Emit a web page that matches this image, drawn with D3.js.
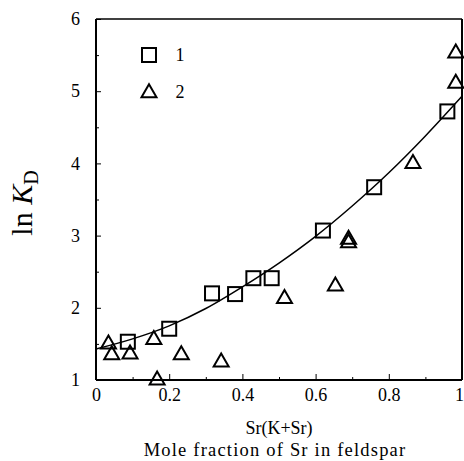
<!DOCTYPE html>
<html>
<head>
<meta charset="utf-8">
<script src="https://cdn.jsdelivr.net/npm/d3@7"></script>
<style>
html,body{margin:0;padding:0;background:#fff;}
svg{display:block;}
text{font-family:"Liberation Serif","Times New Roman",serif;fill:#000;}
</style>
</head>
<body>
<svg id="chart" width="464" height="461"></svg>
<script>
// Series 1 (squares)
const sqX = [0.087, 0.20, 0.317, 0.38, 0.43, 0.48, 0.62, 0.76, 0.96];
const sqY = [1.53, 1.71, 2.20, 2.19, 2.41, 2.41, 3.07, 3.67, 4.72];
// Series 2 (triangles)
const triX = [0.034, 0.043, 0.093, 0.158, 0.167, 0.233, 0.342, 0.515, 0.654, 0.69, 0.69, 0.866, 0.983, 0.983];
const triY = [1.51, 1.36, 1.37, 1.57, 1.01, 1.36, 1.26, 2.14, 2.31, 2.91, 2.96, 4.01, 5.12, 5.54];
// Fitted curve
const curveX = [0, 0.1, 0.2, 0.3, 0.4, 0.5, 0.6, 0.7, 0.8, 0.9, 1.0];
const curveY = [1.43, 1.57, 1.75, 1.99, 2.29, 2.62, 2.99, 3.41, 3.87, 4.38, 4.93];
// Ticks
const xMajor = [0, 0.2, 0.4, 0.6, 0.8, 1];
const xMinor = [0.1, 0.3, 0.5, 0.7, 0.9];
const xTickLabels = ["0", "0.2", "0.4", "0.6", "0.8", "1"];
const yMajor = [1, 2, 3, 4, 5, 6];
const yMinor = [1.5, 2.5, 3.5, 4.5, 5.5];
const yTickLabels = ["1", "2", "3", "4", "5", "6"];
const legendLabels = ["1", "2"];

const svg = d3.select("#chart");
const L = 96, R = 462, T = 19, B = 380;
const x = d3.scaleLinear().domain([0, 1]).range([L, R]);
const y = d3.scaleLinear().domain([1, 6]).range([B, T]);

// Axes
const gx = svg.append("g").attr("transform", `translate(0,${B})`)
  .call(d3.axisBottom(x).tickValues(xMajor).tickSize(-6).tickPadding(21)
    .tickFormat((d, i) => xTickLabels[i]));
const gxm = svg.append("g").attr("transform", `translate(0,${B})`)
  .call(d3.axisBottom(x).tickValues(xMinor).tickSize(-3).tickFormat(""));
const gy = svg.append("g").attr("transform", `translate(${L},0)`)
  .call(d3.axisLeft(y).tickValues(yMajor).tickSize(-5).tickPadding(16)
    .tickFormat((d, i) => yTickLabels[i]));
const gym = svg.append("g").attr("transform", `translate(${L},0)`)
  .call(d3.axisLeft(y).tickValues(yMinor).tickSize(-3).tickFormat(""));
[gx, gxm, gy, gym].forEach(g => {
  g.select(".domain").remove();
  g.selectAll(".tick line").attr("stroke", "#000").attr("stroke-width", 1);
  g.selectAll(".tick text").style("font-family", '"Liberation Serif",serif')
    .style("font-size", "18px").attr("fill", "#000");
});
gx.selectAll(".tick text").attr("dy", "0");
gx.selectAll(".tick text").filter((d, i) => i === xMajor.length - 1).attr("x", -3);

// Frame
svg.append("line").attr("x1", L).attr("x2", L).attr("y1", T).attr("y2", B).attr("stroke", "#000").attr("stroke-width", 2);
svg.append("line").attr("x1", L).attr("x2", R).attr("y1", B).attr("y2", B).attr("stroke", "#000").attr("stroke-width", 2);
svg.append("line").attr("x1", L).attr("x2", R).attr("y1", T).attr("y2", T).attr("stroke", "#000").attr("stroke-width", 1.5);
svg.append("line").attr("x1", R).attr("x2", R).attr("y1", T).attr("y2", B).attr("stroke", "#000").attr("stroke-width", 2);

// Curve
const curveData = curveX.map((d, i) => [d, curveY[i]]);
svg.append("path").datum(curveData)
  .attr("d", d3.line().x(d => x(d[0])).y(d => y(d[1])).curve(d3.curveMonotoneX))
  .attr("fill", "none").attr("stroke", "#000").attr("stroke-width", 1.5);

// Markers
const sq = 14;
const triPath = (cx, cy) => {
  const w = 15, h = 13;
  return `M${cx},${cy - h * 0.6}L${cx + w / 2},${cy + h * 0.4}L${cx - w / 2},${cy + h * 0.4}Z`;
};
svg.append("g").selectAll("rect").data(sqX.map((d, i) => [d, sqY[i]])).join("rect")
  .attr("x", d => x(d[0]) - sq / 2).attr("y", d => y(d[1]) - sq / 2)
  .attr("width", sq).attr("height", sq)
  .attr("fill", "none").attr("stroke", "#000").attr("stroke-width", 2);
svg.append("g").selectAll("path").data(triX.map((d, i) => [d, triY[i]])).join("path")
  .attr("d", d => triPath(x(d[0]), y(d[1])))
  .attr("fill", "none").attr("stroke", "#000").attr("stroke-width", 2);

// Legend
svg.append("rect").attr("x", 149 - sq / 2).attr("y", 55 - sq / 2).attr("width", sq).attr("height", sq)
  .attr("fill", "none").attr("stroke", "#000").attr("stroke-width", 2);
svg.append("path").attr("d", triPath(149, 92)).attr("fill", "none").attr("stroke", "#000").attr("stroke-width", 2);
svg.append("text").attr("x", 180).attr("y", 61).attr("text-anchor", "middle").attr("fill", "#000").style("font-size", "18px").text(legendLabels[0]);
svg.append("text").attr("x", 180).attr("y", 98).attr("text-anchor", "middle").attr("fill", "#000").style("font-size", "18px").text(legendLabels[1]);

// Axis titles
svg.append("text").attr("x", 279).attr("y", 434).attr("text-anchor", "middle").attr("fill", "#000").style("font-size", "18px").text("Sr(K+Sr)");
svg.append("text").attr("x", 275).attr("y", 456).attr("text-anchor", "middle").attr("fill", "#000").style("font-size", "18.5px").style("letter-spacing", "1.2px").text("Mole fraction of Sr in feldspar");
const yl = svg.append("text").attr("transform", "translate(32,203) rotate(-90)").attr("text-anchor", "middle").attr("fill", "#000").style("font-size", "30px");
yl.append("tspan").text("ln ");
yl.append("tspan").style("font-style", "italic").text("K");
yl.append("tspan").attr("dy", 6).style("font-size", "20px").text("D");
</script>
</body>
</html>
